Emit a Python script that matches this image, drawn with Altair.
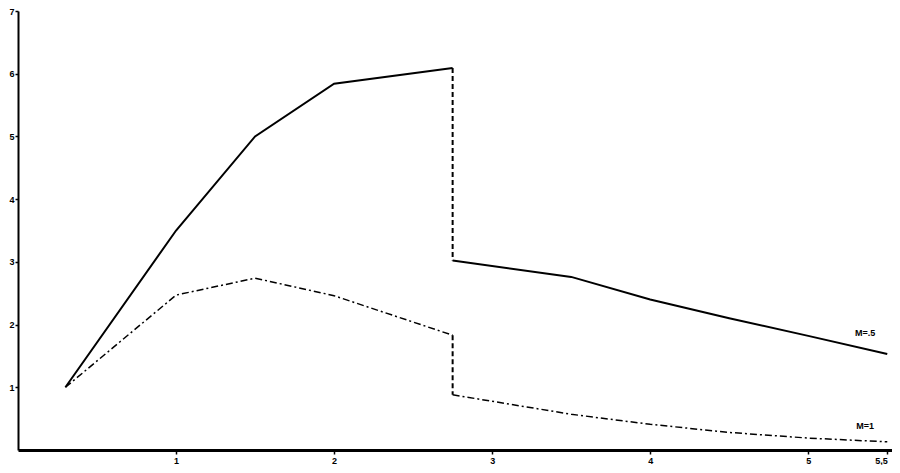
import altair as alt
import pandas as pd

# ---- data ----
up_x = [0.3, 1.0, 1.5, 2.0, 2.75, 2.75, 3.5, 4.0, 4.5, 5.0, 5.5]
up_y = [1.0, 3.5, 5.0, 5.84, 6.09, 3.02, 2.76, 2.4, 2.1, 1.82, 1.53]
lo_x = [0.3, 1.0, 1.5, 2.0, 2.75, 2.75, 3.5, 4.0, 4.5, 5.0, 5.5]
lo_y = [1.0, 2.47, 2.74, 2.46, 1.83, 0.88, 0.57, 0.41, 0.28, 0.19, 0.13]
jump = 4  # index of the last point before the vertical drop

x_ticks = [1, 2, 3, 4, 5, 5.5]
x_tick_labels = ["1", "2", "3", "4", "5", "5,5"]
y_ticks = [1, 2, 3, 4, 5, 6, 7]

label_text = ["M=.5", "M=1"]
label_x = [5.36, 5.36]
label_y = [1.86, 0.38]

# ---- build table ----
rows = []
for name, xs, ys, main_style in [("M=.5", up_x, up_y, "solid"), ("M=1", lo_x, lo_y, "dashdot")]:
    parts = [
        ("rise", list(range(0, jump + 1)), main_style),
        ("drop", [jump, jump + 1], "dash"),
        ("fall", list(range(jump + 1, len(xs))), main_style),
    ]
    for seg, idxs, style in parts:
        for order, i in enumerate(idxs):
            rows.append({"x": xs[i], "y": ys[i], "seg": name + seg, "style": style, "o": order})
df = pd.DataFrame(rows)
labels_df = pd.DataFrame({"t": label_text, "x": label_x, "y": label_y})

label_expr = " : ".join(
    [f"datum.value == {v} ? '{l}'" for v, l in zip(x_ticks, x_tick_labels)]
) + " : ''"

xscale = alt.Scale(domain=[0, 5.53], nice=False, zero=True)
yscale = alt.Scale(domain=[0, 7], nice=False, zero=True)

xaxis = alt.Axis(values=x_ticks, labelExpr=label_expr, title=None, grid=False,
                 domainColor="black", domainWidth=3, tickColor="black", tickWidth=1.5,
                 tickSize=4, labelPadding=2, labelFont="Liberation Sans", labelFontWeight="bold",
                 labelFontSize=9, labelColor="black", labelFlush=6)
yaxis = alt.Axis(values=y_ticks, title=None, grid=False, format="d",
                 domainColor="black", domainWidth=2, tickColor="black", tickWidth=1.5,
                 tickSize=3, labelPadding=1, labelFont="Liberation Sans", labelFontWeight="bold",
                 labelFontSize=9, labelColor="black")

base = alt.Chart(df)

def line_layer(style, dash, width):
    enc = dict(
        x=alt.X("x:Q", scale=xscale, axis=xaxis),
        y=alt.Y("y:Q", scale=yscale, axis=yaxis),
        detail="seg:N",
        order="o:Q",
    )
    mk = dict(color="black", strokeWidth=width, strokeCap="butt")
    if dash:
        mk["strokeDash"] = dash
    return base.transform_filter(alt.datum.style == style).mark_line(**mk).encode(**enc)

solid = line_layer("solid", None, 2)
dashdot = line_layer("dashdot", [7, 3, 2, 3], 1.5)
dash = line_layer("dash", [5, 3], 2)

text = alt.Chart(labels_df).mark_text(
    font="Liberation Sans", fontWeight="bold", fontSize=9, color="black", align="center"
).encode(
    x=alt.X("x:Q", scale=xscale, axis=xaxis),
    y=alt.Y("y:Q", scale=yscale, axis=yaxis),
    text="t:N",
)

chart = alt.layer(solid, dashdot, dash, text).properties(
    width=874, height=439,
    background="white",
    autosize=alt.AutoSizeParams(type="none"),
    padding={"left": 10, "top": 3, "right": 0, "bottom": 15},
).configure_view(stroke=None)

chart.save("out.html", embed_options={"renderer": "svg", "actions": False})
